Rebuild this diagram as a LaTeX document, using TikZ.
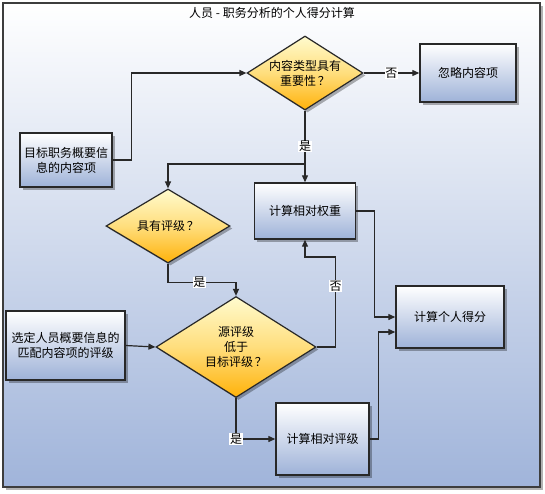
\documentclass[tikz,border=0pt]{standalone}
\usepackage{fontspec}
\setmainfont{Noto Sans CJK SC}
\usetikzlibrary{shapes.geometric,shadows,arrows.meta,calc}
\definecolor{fondbas}{RGB}{160,180,218}
\definecolor{boitebas}{RGB}{158,178,216}
\definecolor{losjaune}{RGB}{255,251,206}
\definecolor{losmilieu}{RGB}{255,222,125}
\definecolor{losorange}{RGB}{255,178,10}
\definecolor{trait}{RGB}{40,40,40}
\tikzset{
    ombre/.style={drop shadow={shadow xshift=2.5pt,shadow yshift=-2.5pt,fill=black,opacity=0.3}},
    boite/.style={draw=trait,line width=1.4pt,top color=white,bottom color=boitebas,ombre,align=center,inner sep=0pt},
    losange/.style={diamond,draw=trait,line width=1.2pt,top color=losjaune,bottom color=losorange,middle color=losmilieu,ombre,align=center,inner sep=0pt},
    fleche/.style={draw=trait,line width=1.2pt,-{Triangle[length=7pt,width=6pt]}},
    etiq/.style={fill=white,inner sep=0.6pt},
  }

\begin{document}
\begin{tikzpicture}[x=1pt,y=-1pt,font=\fontsize{12}{15}\selectfont]
	\useasboundingbox (0,0) rectangle (545,493);
	%CADRE et titre
	\draw[draw=trait!90,line width=1.5pt,top color=white,bottom color=fondbas,ombre] (3,3) rectangle (540,487);
	\node (title) at (272,13) {人员 - 职务分析的个人得分计算};

	%BOITES
	\node[boite,minimum width=92pt,minimum height=54pt] (goal) at (66,160) {目标职务概要信\\息的内容项};
	\node[boite,minimum width=96pt,minimum height=58pt] (ignore) at (468,73) {忽略内容项};
	\node[boite,minimum width=101pt,minimum height=56pt] (weight) at (305,211) {计算相对权重};
	\node[boite,minimum width=119pt,minimum height=69pt] (sel) at (65.5,345.5) {选定人员概要信息的\\匹配内容项的评级};
	\node[boite,minimum width=93pt,minimum height=72pt] (rrate) at (322.5,439) {计算相对评级};
	\node[boite,minimum width=108pt,minimum height=62pt] (score) at (450,317) {计算个人得分};

	%LOSANGES
	\node[losange,minimum width=116pt,minimum height=74pt,aspect=1.57] (imp) at (305,73) {内容类型具有\\重要性\,？};
	\node[losange,minimum width=124pt,minimum height=74pt,aspect=1.68] (hasr) at (168,226) {具有评级\,？};
	\node[losange,minimum width=160pt,minimum height=101pt,aspect=1.58] (low) at (236,347) {源评级\\低于\\目标评级\,？};

	%FLECHES
	\draw[fleche] (goal.east) -- ++(19,0) |- (imp.west);
	\draw[fleche] (imp.east) -- node[etiq]{否} (ignore.west);
	\draw[fleche] (imp.south) -- node[etiq]{是} (weight.north);
	\coordinate (split) at (305,164);
	\draw[fleche] (split) -| (hasr.north);
	\draw[fleche] (hasr.south) -- ++(0,19) -| node[etiq,pos=0.23]{是} (low.north);
	\draw[fleche] (sel.east) -- (low.west);
	\draw[fleche] (low.east) -- ++(19,0) -- node[etiq,pos=0.68]{否} ++(0,-90) -| (weight.south);
	\draw[fleche] (low.south) |- node[etiq]{是} (rrate.west);
	\draw[fleche] (weight.east) -- ++(18,0) |- (score.west);
	\draw[fleche] (rrate.east) -- ++(9,0) |- ([yshift=-15pt]score.west);
\end{tikzpicture}
\end{document}
